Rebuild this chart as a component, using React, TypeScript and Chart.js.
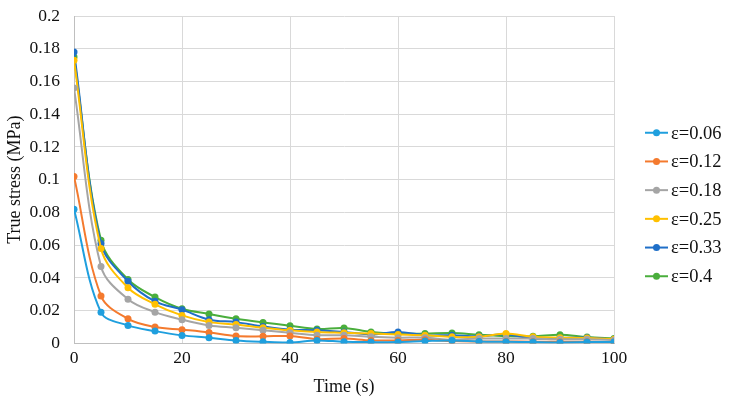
import React, { useEffect, useRef } from "react";
import { Chart, registerables } from "chart.js";

Chart.register(...registerables);

const times = [0, 5, 10, 15, 20, 25, 30, 35, 40, 45, 50, 55, 60, 65, 70, 75, 80, 85, 90, 95, 100];

const seriesNames = ["ε=0.06", "ε=0.12", "ε=0.18", "ε=0.25", "ε=0.33", "ε=0.4"];
const seriesColors = ["#1F9FDE", "#F47A2E", "#A5A5A5", "#FFC000", "#1F6FC8", "#4AAE3C"];

const s006 = [0.082, 0.019, 0.011, 0.0075, 0.0049, 0.0035, 0.0018, 0.001, 0.0006, 0.0018, 0.001, 0.0008, 0.0008, 0.0014, 0.0018, 0.0012, 0.001, 0.0008, 0.0006, 0.0008, 0.0008];
const s012 = [0.102, 0.029, 0.015, 0.010, 0.0084, 0.0067, 0.0045, 0.0043, 0.0045, 0.0026, 0.003, 0.0018, 0.0018, 0.0023, 0.0014, 0.0012, 0.0012, 0.001, 0.001, 0.001, 0.0008];
const s018 = [0.156, 0.047, 0.027, 0.0191, 0.0145, 0.011, 0.0096, 0.008, 0.0065, 0.005, 0.005, 0.004, 0.0035, 0.0035, 0.0023, 0.003, 0.003, 0.003, 0.0025, 0.0025, 0.002];
const s025 = [0.173, 0.058, 0.034, 0.0239, 0.0171, 0.013, 0.0116, 0.0096, 0.008, 0.007, 0.0065, 0.006, 0.0055, 0.005, 0.004, 0.004, 0.006, 0.004, 0.0035, 0.0033, 0.0025];
const s033 = [0.178, 0.061, 0.038, 0.0257, 0.0206, 0.0145, 0.013, 0.0104, 0.0084, 0.008, 0.007, 0.0055, 0.007, 0.005, 0.005, 0.0043, 0.0055, 0.003, 0.0033, 0.0035, 0.0025];
const s040 = [0.175, 0.063, 0.039, 0.0283, 0.0212, 0.018, 0.0151, 0.0128, 0.0108, 0.0088, 0.0094, 0.007, 0.006, 0.006, 0.0063, 0.0053, 0.0045, 0.0043, 0.0053, 0.0039, 0.003];

const seriesValues = [s006, s012, s018, s025, s033, s040];

const FONT = "'Liberation Serif', 'Times New Roman', serif";

const legendPlugin = {
  id: "customLegend",
  afterDraw(chart: any) {
    const { ctx, chartArea } = chart;
    const x0 = chartArea.right + 31;
    const spacing = 28.7;
    const yStart = chart.height / 2 - spacing * 2.5 + 3;
    ctx.save();
    ctx.font = `18.5px ${FONT}`;
    ctx.textBaseline = "middle";
    chart.data.datasets.forEach((ds: any, i: number) => {
      const y = yStart + i * spacing;
      ctx.strokeStyle = ds.borderColor;
      ctx.lineWidth = 2;
      ctx.beginPath();
      ctx.moveTo(x0, y);
      ctx.lineTo(x0 + 23, y);
      ctx.stroke();
      ctx.fillStyle = ds.borderColor;
      ctx.beginPath();
      ctx.arc(x0 + 11.5, y, 3.5, 0, Math.PI * 2);
      ctx.fill();
      ctx.fillStyle = "#111";
      ctx.fillText(ds.label, x0 + 26, y + 1);
    });
    ctx.restore();
  },
};

const fmt = (v: number) => String(Math.round(v * 1000) / 1000);

export default function App() {
  const ref = useRef<HTMLCanvasElement>(null);
  useEffect(() => {
    if (!ref.current) return;
    const chart = new Chart(ref.current, {
      type: "line",
      data: {
        datasets: seriesNames.map((name, i) => ({
          label: name,
          data: times.map((t, j) => ({ x: t, y: seriesValues[i][j] })),
          borderColor: seriesColors[i],
          backgroundColor: seriesColors[i],
          borderWidth: 2,
          pointRadius: 3.5,
          pointHoverRadius: 3.5,
          pointBorderWidth: 0,
          tension: 0.35,
          fill: false,
        })),
      },
      options: {
        animation: false,
        responsive: false,
        maintainAspectRatio: false,
        layout: { padding: { top: 16, right: 119, bottom: 5, left: 0 } },
        plugins: {
          legend: { display: false },
          tooltip: { enabled: false },
        },
        scales: {
          x: {
            type: "linear",
            min: 0,
            max: 100,
            ticks: { stepSize: 20, color: "#111", font: { family: FONT, size: 17.5 }, padding: 5, callback: (v: any) => fmt(Number(v)) },
            grid: { color: "#D9D9D9", lineWidth: 1, drawTicks: false },
            border: { color: "#BFBFBF" },
            title: { display: true, text: "Time (s)", color: "#111", font: { family: FONT, size: 18 }, padding: { top: 2, bottom: 0 } },
          },
          y: {
            type: "linear",
            min: 0,
            max: 0.2,
            ticks: { stepSize: 0.02, color: "#111", font: { family: FONT, size: 17.5 }, padding: 14, callback: (v: any) => fmt(Number(v)) },
            grid: { color: "#D9D9D9", lineWidth: 1, drawTicks: false },
            border: { color: "#BFBFBF" },
            title: { display: true, text: "True stress (MPa)", color: "#111", font: { family: FONT, size: 18 }, padding: { top: 4, bottom: 0 } },
            afterFit: (scale: any) => {
              scale.width = 74;
              scale.paddingTop = 0;
            },
          },
        },
      },
      plugins: [legendPlugin],
    });
    return () => chart.destroy();
  }, []);
  return (
    <div style={{ position: "fixed", left: 0, top: 0, width: 733, height: 403, background: "#fff" }}>
      <canvas ref={ref} width={733} height={403} style={{ width: 733, height: 403 }} />
    </div>
  );
}
